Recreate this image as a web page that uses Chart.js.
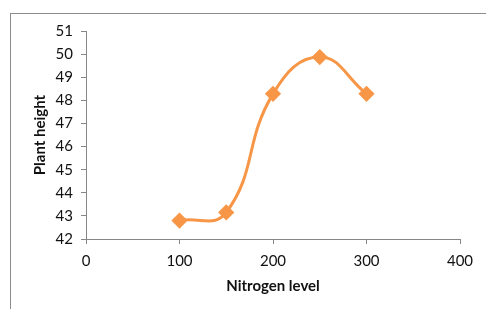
<!DOCTYPE html>
<html>
<head>
<meta charset="utf-8">
<script src="https://cdn.jsdelivr.net/npm/chart.js@4"></script>
<style>
  html, body { margin: 0; padding: 0; background: #fff; }
  #wrap { position: relative; width: 486px; height: 309px; overflow: hidden; }
  #frame { position: absolute; left: 10px; top: 13px; width: 520px; height: 340px; border: 1px solid #8c8c8c; }
  canvas { position: absolute; left: 0; top: 0; }
</style>
</head>
<body>
<div id="wrap">
  <div id="frame"></div>
  <canvas id="chart" width="486" height="309"></canvas>
</div>
<script>
// data
const nitrogen = [100, 150, 200, 250, 300];
const height = [42.8, 43.15, 48.28, 49.87, 48.28];
const xTicks = [0, 100, 200, 300, 400];
const yTicks = [42, 43, 44, 45, 46, 47, 48, 49, 50, 51];

const orange = "#f79646";
const axisGray = "#868686";
const font = "Lato, 'Open Sans', sans-serif";

const points = nitrogen.map((x, i) => ({ x: x, y: height[i] }));

new Chart(document.getElementById("chart").getContext("2d"), {
  type: "line",
  data: {
    datasets: [{
      data: points,
      borderColor: orange,
      backgroundColor: orange,
      borderWidth: 3,
      tension: 0.45,
      pointStyle: "rectRot",
      pointRadius: 6,
      pointHoverRadius: 6,
      fill: false,
    }],
  },
  options: {
    responsive: false,
    animation: false,
    layout: { padding: { top: 31, right: 26, left: 0, bottom: 0 } },
    plugins: { legend: { display: false }, tooltip: { enabled: false } },
    scales: {
      x: {
        type: "linear",
        min: 0,
        max: 400,
        afterBuildTicks: (s) => { s.ticks = xTicks.map(v => ({ value: v })); },
        afterFit: (s) => { s.height = 70; },
        border: { color: axisGray, width: 1 },
        grid: { drawOnChartArea: false, drawTicks: true, tickLength: 5, color: axisGray },
        ticks: { color: "#111", font: { family: font, size: 15 }, padding: 8, maxRotation: 0 },
        title: {
          display: true,
          text: "Nitrogen level",
          color: "#111",
          font: { family: font, size: 15, weight: "bold" },
          padding: { top: 0, bottom: 14 },
        },
      },
      y: {
        min: 42,
        max: 51,
        afterBuildTicks: (s) => { s.ticks = yTicks.map(v => ({ value: v })); },
        afterFit: (s) => { s.width = 86; },
        border: { color: axisGray, width: 1 },
        grid: { drawOnChartArea: false, drawTicks: true, tickLength: 5, color: axisGray },
        ticks: { color: "#111", font: { family: font, size: 15 }, padding: 8 },
        title: {
          display: true,
          text: "Plant height",
          color: "#111",
          font: { family: font, size: 15, weight: "bold" },
          padding: { top: 31, bottom: 0 },
        },
      },
    },
  },
});
</script>
</body>
</html>
